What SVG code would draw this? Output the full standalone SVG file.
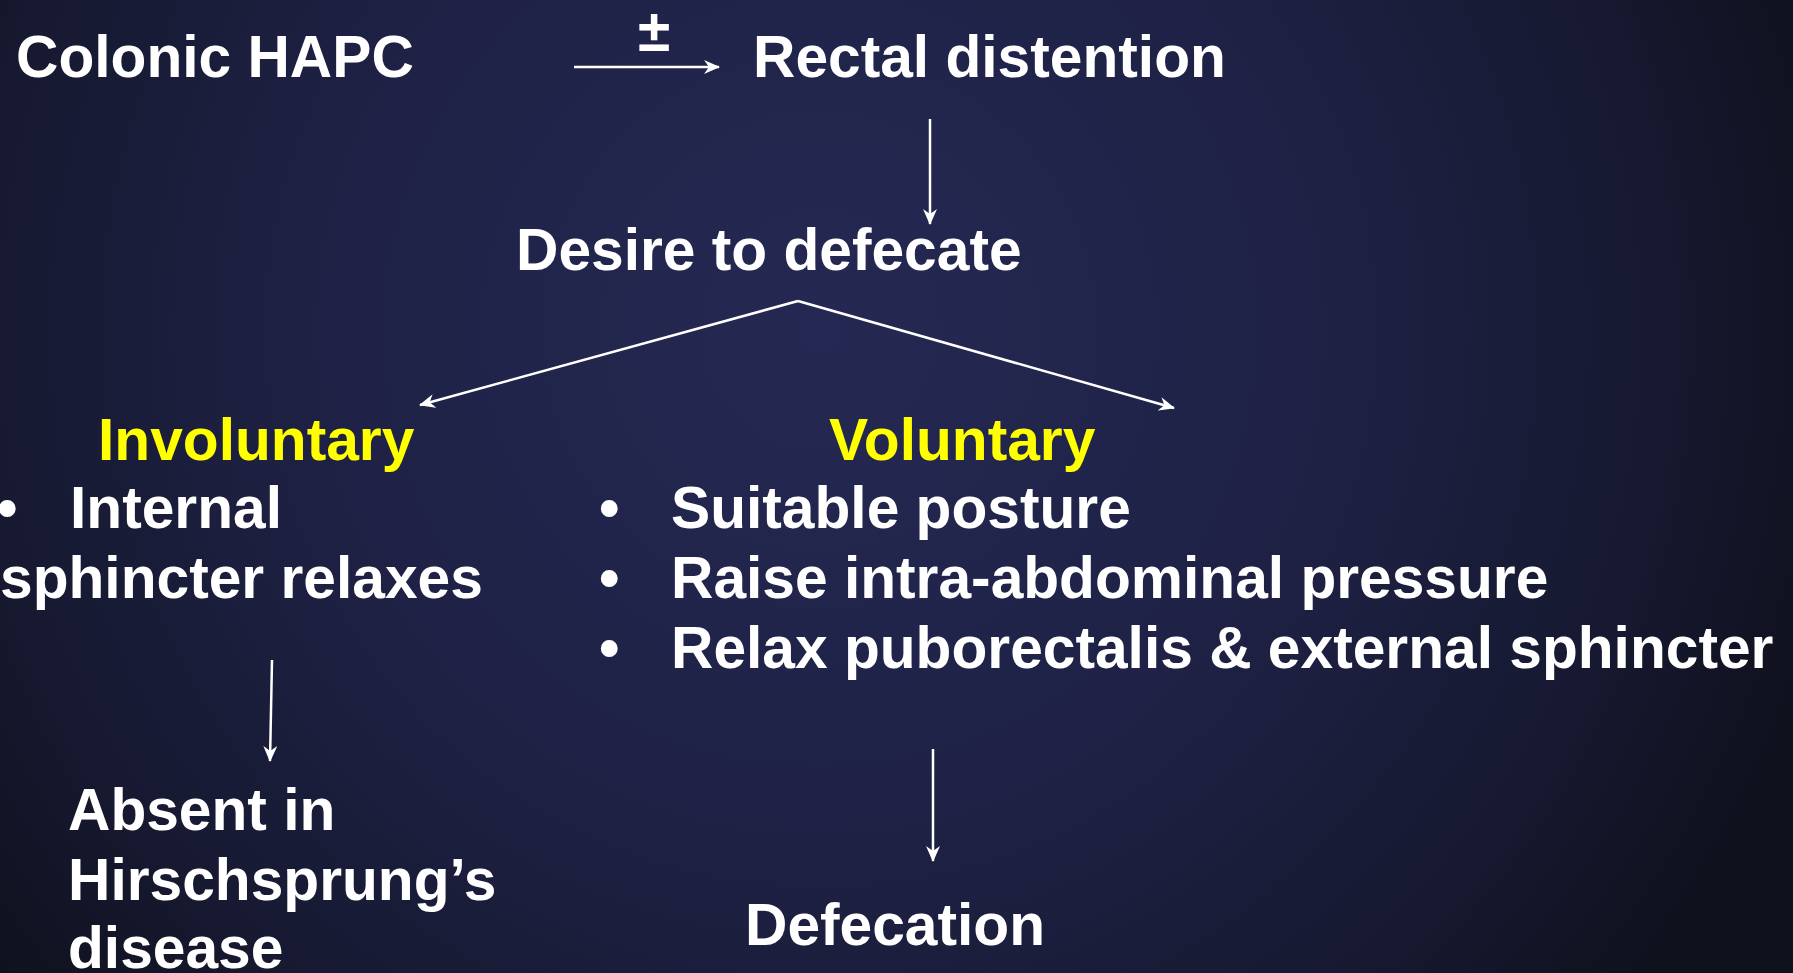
<svg xmlns="http://www.w3.org/2000/svg" width="1793" height="973" viewBox="0 0 1793 973">
<defs>
<radialGradient id="bg" gradientUnits="userSpaceOnUse" cx="820" cy="330" r="1050">
<stop offset="0" stop-color="#252852"/>
<stop offset="0.45" stop-color="#1f2246"/>
<stop offset="0.8" stop-color="#161930"/>
<stop offset="1" stop-color="#0f111d"/>
</radialGradient>
<marker id="ah" viewBox="0 0 16 14" refX="15" refY="7" markerWidth="16" markerHeight="14" markerUnits="userSpaceOnUse" orient="auto">
<path d="M0,0 L16,7 L0,14 L5,7 z" fill="#ffffff"/>
</marker>
<style>
.t{font-family:"Liberation Sans",Arial,sans-serif;font-weight:bold;font-size:58.7px;fill:#ffffff}
.y{fill:#ffff00}
.c{stroke:#ffffff;stroke-width:2.5;fill:none;marker-end:url(#ah)}
</style>
</defs>
<rect x="0" y="0" width="1793" height="973" fill="url(#bg)"/>
<g id="connectors">
<line class="c" x1="574" y1="67" x2="719" y2="67"/>
<line class="c" x1="930" y1="119" x2="930" y2="224"/>
<line class="c" x1="798" y1="301" x2="420" y2="405"/>
<line class="c" x1="798" y1="301" x2="1174" y2="408"/>
<line class="c" x1="272" y1="660" x2="270" y2="761"/>
<line class="c" x1="933" y1="749" x2="933" y2="861"/>
</g>
<g id="label-pm"><text class="t" x="654" y="51" text-anchor="middle">±</text></g>
<g id="colonic-hapc"><text class="t" x="16" y="77">Colonic HAPC</text></g>
<g id="rectal-distention"><text class="t" x="753" y="77">Rectal distention</text></g>
<g id="desire"><text class="t" x="516" y="270">Desire to defecate</text></g>
<g id="involuntary">
<text class="t y" x="98" y="460">Involuntary</text>
<text class="t" x="-3" y="528">•</text>
<text class="t" x="70" y="528">Internal</text>
<text class="t" x="0" y="598">sphincter relaxes</text>
</g>
<g id="voluntary">
<text class="t y" x="829" y="460">Voluntary</text>
<text class="t" x="599" y="528">•</text>
<text class="t" x="671" y="528">Suitable posture</text>
<text class="t" x="599" y="598">•</text>
<text class="t" x="671" y="598">Raise intra-abdominal pressure</text>
<text class="t" x="599" y="668">•</text>
<text class="t" x="671" y="668">Relax puborectalis &amp; external sphincter</text>
</g>
<g id="hirschsprung">
<text class="t" x="68" y="830">Absent in</text>
<text class="t" x="68" y="900">Hirschsprung’s</text>
<text class="t" x="68" y="968">disease</text>
</g>
<g id="defecation"><text class="t" x="745" y="945">Defecation</text></g>
</svg>
